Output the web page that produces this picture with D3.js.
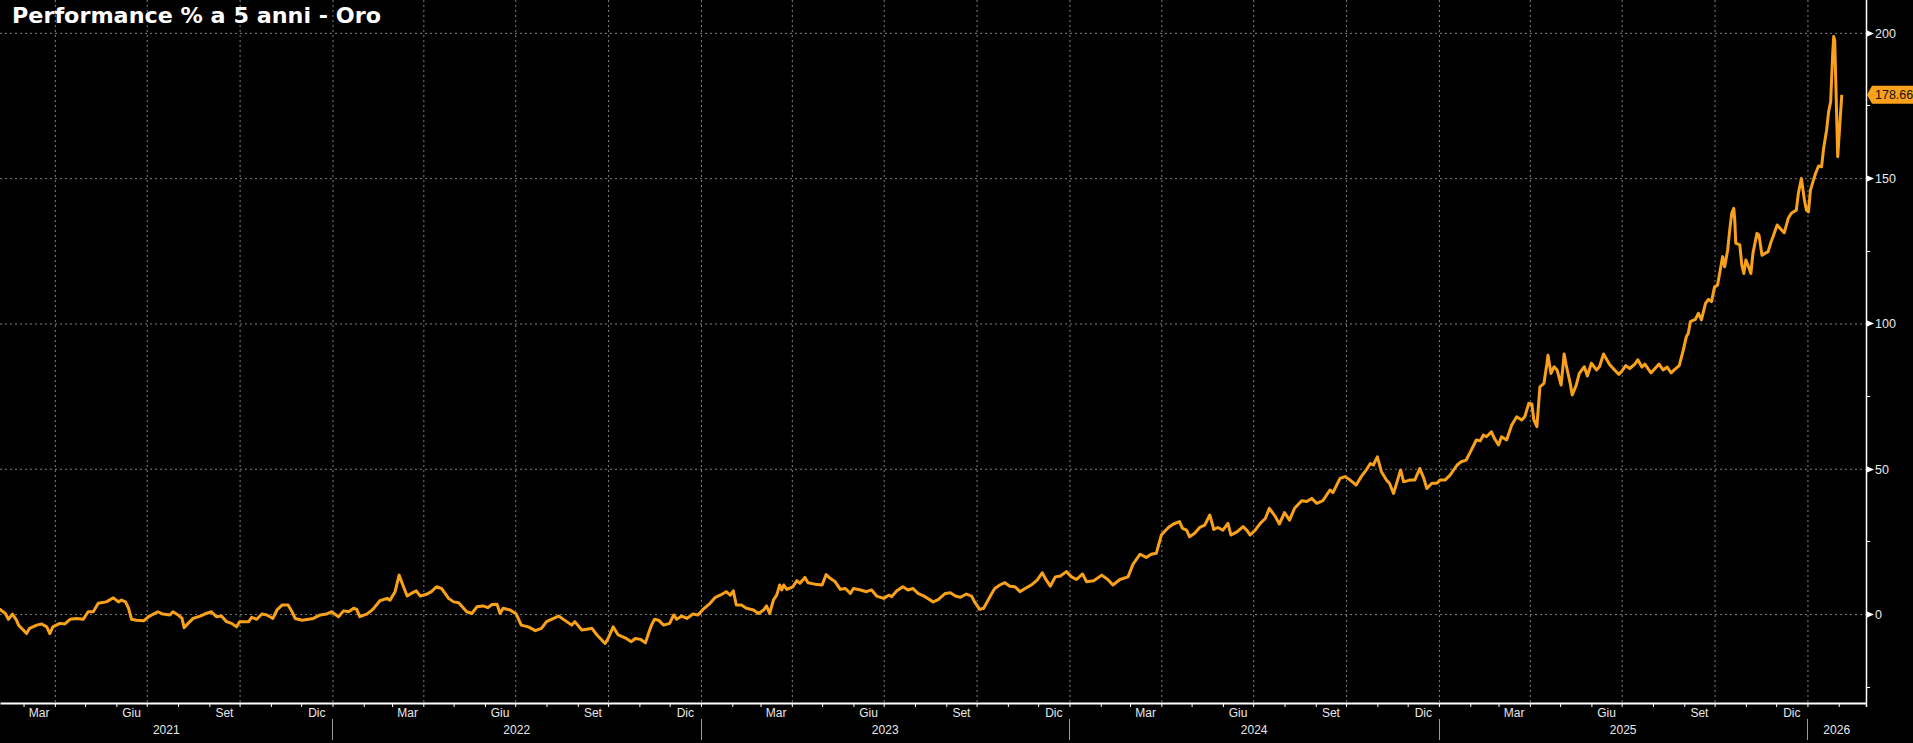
<!DOCTYPE html>
<html lang="it">
<head>
<meta charset="UTF-8">
<title>Performance % a 5 anni - Oro</title>
<script src="https://d3js.org/d3.v7.min.js"></script>
<style>
  body { margin: 0; background: #000; overflow: hidden; }
  svg { display: block; }
</style>
</head>
<body>
<script>
// performance % dell'oro su 5 anni (data, valore)
const oro2021 = [
  ["2021-02-05",1.8],["2021-02-11",0.2],["2021-02-14",-1.8],["2021-02-18",0],["2021-02-22",-2.1],["2021-02-24",-3.8],
  ["2021-02-27",-4.9],["2021-03-04",-6.7],["2021-03-07",-4.9],["2021-03-14",-3.8],["2021-03-19",-3.4],["2021-03-24",-4.4],
  ["2021-03-27",-6.7],["2021-03-30",-4.4],["2021-04-06",-3.2],["2021-04-11",-3.4],["2021-04-16",-1.8],["2021-04-23",-1.5],
  ["2021-04-29",-1.8],["2021-05-04",0.8],["2021-05-09",0.8],["2021-05-14",3.7],["2021-05-22",4.2],["2021-05-29",5.6],
  ["2021-06-03",4.2],["2021-06-06",4.8],["2021-06-10",4.2],["2021-06-13",2.0],["2021-06-16",-1.8],["2021-06-21",-2.1],
  ["2021-06-28",-2.3],["2021-07-03",-0.9],["2021-07-12",0.8],["2021-07-17",0],["2021-07-24",-0.3],["2021-07-27",0.8],
  ["2021-08-01",-0.3],["2021-08-05",-1.5],["2021-08-07",-4.7],["2021-08-11",-3.2],["2021-08-16",-1.5],["2021-08-23",-0.7],
  ["2021-08-29",0.2],["2021-09-03",0.8],["2021-09-08",-0.9],["2021-09-13",-0.7],["2021-09-18",-2.6],["2021-09-23",-3.2],
  ["2021-09-28",-4.4],["2021-10-01",-2.6],["2021-10-10",-2.6],["2021-10-13",-1.1],["2021-10-18",-1.8],["2021-10-23",0],
  ["2021-10-28",-0.3],["2021-11-03",-1.5],["2021-11-07",1.4],["2021-11-12",3.1],["2021-11-18",3.1],["2021-11-22",0.8],
  ["2021-11-25",-1.5],["2021-12-02",-2.1],["2021-12-13",-1.5],["2021-12-20",-0.3],["2021-12-26",0],["2021-12-31",0.8]
];
const oro2022 = [
  ["2022-01-07",-0.9],["2022-01-12",1.1],["2022-01-17",0.8],["2022-01-22",2.0],["2022-01-25",1.6],["2022-01-28",-0.9],
  ["2022-02-04",0],["2022-02-10",1.6],["2022-02-17",4.6],["2022-02-24",5.4],["2022-02-27",4.8],["2022-03-04",7.7],
  ["2022-03-08",13.4],["2022-03-11",10.6],["2022-03-16",6.2],["2022-03-20",7.1],["2022-03-25",8.0],["2022-03-29",6.2],
  ["2022-04-04",6.8],["2022-04-09",7.7],["2022-04-14",9.4],["2022-04-19",8.8],["2022-04-26",5.4],["2022-05-01",4.2],
  ["2022-05-06",3.9],["2022-05-14",0.8],["2022-05-19",0.2],["2022-05-24",2.5],["2022-05-30",2.8],["2022-06-04",2.2],
  ["2022-06-08",3.3],["2022-06-13",3.4],["2022-06-16",0.2],["2022-06-19",2.0],["2022-06-26",1.4],["2022-07-02",0],
  ["2022-07-07",-3.8],["2022-07-14",-4.4],["2022-07-21",-5.7],["2022-07-27",-4.9],["2022-08-01",-2.6],["2022-08-08",-1.5],
  ["2022-08-13",-0.7],["2022-08-21",-2.6],["2022-08-26",-3.8],["2022-08-29",-2.6],["2022-09-05",-5.5],["2022-09-10",-5.2],
  ["2022-09-15",-4.9],["2022-09-20",-7.2],["2022-09-28",-10.1],["2022-10-01",-8.4],["2022-10-06",-4.4],["2022-10-11",-7.2],
  ["2022-10-19",-8.4],["2022-10-24",-9.5],["2022-10-28",-8.4],["2022-11-02",-8.7],["2022-11-07",-9.9],["2022-11-10",-6.7],
  ["2022-11-13",-3.8],["2022-11-16",-1.8],["2022-11-20",-2.1],["2022-11-25",-3.8],["2022-12-01",-3.2],["2022-12-05",-0.3],
  ["2022-12-08",-1.8],["2022-12-13",-0.7],["2022-12-18",-1.5],["2022-12-24",0],["2022-12-29",-0.3]
];
const oro2023 = [
  ["2023-01-03",1.6],["2023-01-10",3.7],["2023-01-15",5.7],["2023-01-20",6.5],["2023-01-26",7.7],["2023-01-30",6.5],
  ["2023-02-02",8.0],["2023-02-05",3.1],["2023-02-10",3.1],["2023-02-15",2.0],["2023-02-22",1.4],["2023-02-27",0.2],
  ["2023-03-04",1.4],["2023-03-07",2.8],["2023-03-10",0.2],["2023-03-14",5.0],["2023-03-17",6.5],["2023-03-20",10.0],
  ["2023-03-22",8.3],["2023-03-24",10.0],["2023-03-27",8.5],["2023-04-02",9.4],["2023-04-06",11.5],["2023-04-09",10.6],
  ["2023-04-14",12.6],["2023-04-17",10.8],["2023-04-24",10.3],["2023-05-01",10.0],["2023-05-05",13.6],["2023-05-09",12.3],
  ["2023-05-14",11.1],["2023-05-19",8.5],["2023-05-24",8.8],["2023-05-29",7.1],["2023-06-01",8.8],["2023-06-08",8.3],
  ["2023-06-14",7.7],["2023-06-19",8.3],["2023-06-24",6.2],["2023-07-01",5.4],["2023-07-06",6.5],["2023-07-09",6.0],
  ["2023-07-14",8.0],["2023-07-20",9.4],["2023-07-25",8.3],["2023-07-30",8.8],["2023-08-04",7.1],["2023-08-11",6.0],
  ["2023-08-19",4.2],["2023-08-24",5.0],["2023-08-31",7.1],["2023-09-05",7.3],["2023-09-10",6.2],["2023-09-15",5.8],
  ["2023-09-21",6.9],["2023-09-26",6.2],["2023-09-29",4.2],["2023-10-04",1.6],["2023-10-08",2.0],["2023-10-11",3.9],
  ["2023-10-16",7.1],["2023-10-19",8.8],["2023-10-24",10.0],["2023-10-29",10.8],["2023-11-03",9.6],["2023-11-08",9.4],
  ["2023-11-13",7.7],["2023-11-18",8.8],["2023-11-25",10.2],["2023-11-30",11.7],["2023-12-05",14.2],["2023-12-08",12.3],
  ["2023-12-13",9.6],["2023-12-18",12.8],["2023-12-23",13.1],["2023-12-29",14.6]
];
const oro2024 = [
  ["2024-01-03",12.8],["2024-01-08",11.9],["2024-01-14",13.8],["2024-01-18",11.1],["2024-01-25",11.5],["2024-02-02",13.4],
  ["2024-02-08",11.9],["2024-02-13",10.0],["2024-02-20",11.9],["2024-02-28",12.8],["2024-03-04",17.2],["2024-03-11",20.6],
  ["2024-03-17",19.5],["2024-03-22",20.6],["2024-03-27",20.9],["2024-04-01",27.2],["2024-04-08",29.8],["2024-04-13",31.0],
  ["2024-04-19",31.8],["2024-04-22",29.5],["2024-04-26",28.9],["2024-04-29",26.6],["2024-05-04",27.8],["2024-05-09",29.8],
  ["2024-05-14",30.6],["2024-05-19",34.1],["2024-05-23",29.1],["2024-05-27",29.8],["2024-06-01",28.9],["2024-06-06",31.2],
  ["2024-06-09",27.2],["2024-06-15",28.3],["2024-06-21",30.1],["2024-06-25",28.7],["2024-06-28",27.2],["2024-07-03",28.9],
  ["2024-07-08",31.2],["2024-07-13",32.9],["2024-07-17",36.4],["2024-07-23",33.5],["2024-07-27",31.0],["2024-08-01",34.9],
  ["2024-08-06",32.3],["2024-08-11",36.4],["2024-08-18",39.0],["2024-08-23",38.7],["2024-08-28",39.8],["2024-09-02",38.1],
  ["2024-09-08",39.0],["2024-09-15",42.7],["2024-09-18",41.8],["2024-09-25",46.7],["2024-09-30",47.3],["2024-10-05",46.1],
  ["2024-10-11",44.4],["2024-10-16",47.3],["2024-10-21",49.6],["2024-10-25",51.8],["2024-10-28",51.3],["2024-11-01",54.1],
  ["2024-11-05",49.0],["2024-11-10",46.1],["2024-11-13",45.0],["2024-11-17",41.5],["2024-11-21",46.1],["2024-11-24",49.6],
  ["2024-11-27",45.5],["2024-12-03",46.1],["2024-12-08",46.1],["2024-12-13",50.1],["2024-12-17",46.7],["2024-12-20",43.2],
  ["2024-12-25",45.0],["2024-12-30",45.0]
];
const oro2025 = [
  ["2025-01-02",46.1],["2025-01-07",46.1],["2025-01-12",47.8],["2025-01-19",51.3],["2025-01-23",52.4],["2025-01-28",53.0],
  ["2025-02-02",56.4],["2025-02-07",59.9],["2025-02-11",59.6],["2025-02-14",61.6],["2025-02-17",61.0],["2025-02-22",62.7],
  ["2025-02-25",60.4],["2025-03-01",58.2],["2025-03-04",61.0],["2025-03-09",59.9],["2025-03-14",65.0],["2025-03-19",67.9],
  ["2025-03-24",66.8],["2025-03-27",67.9],["2025-03-31",72.5],["2025-04-03",72.3],["2025-04-05",66.8],["2025-04-08",64.5],
  ["2025-04-11",78.2],["2025-04-15",79.4],["2025-04-18",86.3],["2025-04-19",89.1],["2025-04-22",82.8],["2025-04-25",85.1],
  ["2025-04-28",84.0],["2025-05-02",78.8],["2025-05-05",89.5],["2025-05-07",85.7],["2025-05-11",79.4],["2025-05-13",75.4],
  ["2025-05-17",78.8],["2025-05-20",82.8],["2025-05-25",85.1],["2025-05-28",81.9],["2025-06-01",86.3],["2025-06-06",84.0],
  ["2025-06-09",85.1],["2025-06-13",89.5],["2025-06-19",85.9],["2025-06-24",84],["2025-06-28",82.5],["2025-07-01",83.5],
  ["2025-07-05",85.5],["2025-07-09",84.5],["2025-07-14",86],["2025-07-17",87.5],["2025-07-21",85],["2025-07-24",86],
  ["2025-07-30",83],["2025-08-03",84.5],["2025-08-07",86],["2025-08-11",84],["2025-08-15",85],["2025-08-19",83],
  ["2025-08-22",84],["2025-08-27",85.5],["2025-08-31",90.8],["2025-09-03",95.4],["2025-09-05",96.6],["2025-09-07",100.6],
  ["2025-09-12",101.4],["2025-09-15",103.5],["2025-09-18",101.2],["2025-09-22",106.9],["2025-09-25",108.3],["2025-09-28",107.5],
  ["2025-10-01",112.6],["2025-10-04",113.2],["2025-10-06",117.2],["2025-10-09",123.0],["2025-10-11",119.5],["2025-10-14",125.3],
  ["2025-10-16",132.1],["2025-10-18",137.9],["2025-10-20",139.6],["2025-10-21",135.6],["2025-10-22",127.6],["2025-10-26",127.0],
  ["2025-10-28",120.1],["2025-10-30",117.2],["2025-11-01",121.8],["2025-11-03",120.1],["2025-11-06",117.2],["2025-11-08",124.1],
  ["2025-11-12",131.0],["2025-11-14",130.4],["2025-11-17",123.5],["2025-11-20",124.1],["2025-11-23",124.7],["2025-11-26",128.1],
  ["2025-11-28",129.9],["2025-12-02",133.9],["2025-12-05",132.7],["2025-12-09",131.2],["2025-12-13",136.2],["2025-12-16",137.9],
  ["2025-12-21",139.0],["2025-12-23",144.8],["2025-12-26",149.9],["2025-12-29",142.5],["2025-12-31",139.0]
];
const oro2026 = [
  ["2026-01-02",138.4],["2026-01-04",145.9],["2026-01-06",148.2],["2026-01-09",151.6],["2026-01-12",154.2],["2026-01-15",153.9],
  ["2026-01-17",160.2],["2026-01-20",166.6],["2026-01-22",172.9],["2026-01-24",176.3],["2026-01-26",192.9],["2026-01-27",198.7],
  ["2026-01-28",197.5],["2026-01-31",157.4],["2026-02-04",178.66]
];

const monthNames = ["Gen","Feb","Mar","Apr","Mag","Giu","Lug","Ago","Set","Ott","Nov","Dic"];
const labelMonths = [2, 5, 8, 11];          // Mar, Giu, Set, Dic
const yTicks = [0, 50, 100, 150, 200];
const yMinor = [-25, 25, 75, 125, 175];
const lastValue = "178.66";
const title = "Performance % a 5 anni - Oro";

const W = 1913, H = 743;
const plotRight = 1866, plotBottom = 703;
const orange = "#f9a11b";

const parse = d3.timeParse("%Y-%m-%d");
const data = [].concat(oro2021, oro2022, oro2023, oro2024, oro2025, oro2026)
  .map(d => ({ date: parse(d[0]), value: d[1] }));

const svg = d3.select("body").append("svg")
  .attr("width", W).attr("height", H)
  .style("background", "#000");

const x = d3.scaleTime()
  .domain([new Date(2021, 1, 5, 16), new Date(2026, 1, 28)])
  .range([0, plotRight]);
const y = d3.scaleLinear()
  .domain([-30.6, 211.3])
  .range([plotBottom, 0]);

// griglia tratteggiata
const gridX = svg.append("g")
  .call(d3.axisBottom(x).ticks(d3.timeMonth.every(3)).tickSize(plotBottom).tickFormat(""));
const gridY = svg.append("g")
  .call(d3.axisRight(y).tickValues(yTicks).tickSize(plotRight).tickFormat(""));
[gridX, gridY].forEach(g => {
  g.select(".domain").remove();
  g.selectAll("line").attr("stroke", "#808080").attr("stroke-dasharray", "2,3");
});

// titolo
svg.append("text")
  .attr("x", 12).attr("y", 23)
  .attr("fill", "#fff")
  .attr("font-family", "'DejaVu Sans', Verdana, sans-serif")
  .attr("font-weight", "bold")
  .attr("font-size", 22)
  .attr("textLength", 369)
  .attr("lengthAdjust", "spacingAndGlyphs")
  .text(title);

// linea
svg.append("clipPath").attr("id", "clip")
  .append("rect").attr("x", 0).attr("y", 0).attr("width", plotRight).attr("height", plotBottom);

const line = d3.line().x(d => x(d.date)).y(d => y(d.value));
svg.append("path")
  .datum(data)
  .attr("clip-path", "url(#clip)")
  .attr("fill", "none")
  .attr("stroke", orange)
  .attr("stroke-width", 3)
  .attr("stroke-linejoin", "round")
  .attr("d", line);

// asse x
const xAxis = svg.append("g")
  .attr("transform", `translate(0,${plotBottom})`)
  .call(d3.axisBottom(x).ticks(d3.timeMonth.every(1)).tickSize(4).tickSizeOuter(0).tickFormat(""));
xAxis.select(".domain").attr("stroke", "#fff").attr("stroke-width", 2);
xAxis.selectAll(".tick line").attr("stroke", "#fff");

const [d0, d1] = x.domain();
const axisFont = "'Liberation Sans', Arial, sans-serif";

const months = d3.timeMonth.range(d3.timeMonth.floor(d0), d1)
  .filter(m => labelMonths.includes(m.getMonth()));
svg.append("g").selectAll("text")
  .data(months)
  .join("text")
  .attr("x", m => (x(m) + x(d3.timeMonth.offset(m, 1))) / 2)
  .attr("y", 717)
  .attr("text-anchor", "middle")
  .attr("fill", "#e8e8e8")
  .attr("font-family", axisFont)
  .attr("font-size", 12)
  .text(m => monthNames[m.getMonth()]);

const years = d3.range(d0.getFullYear(), d1.getFullYear() + 1);
svg.append("g").selectAll("text")
  .data(years)
  .join("text")
  .attr("x", yr => {
    const a = Math.max(x(new Date(yr, 0, 1)), 0);
    const b = Math.min(x(new Date(yr + 1, 0, 1)), plotRight);
    return (a + b) / 2;
  })
  .attr("y", 734)
  .attr("text-anchor", "middle")
  .attr("fill", "#e8e8e8")
  .attr("font-family", axisFont)
  .attr("font-size", 12)
  .text(yr => yr);

svg.append("g").selectAll("line")
  .data(years.slice(1))
  .join("line")
  .attr("x1", yr => Math.round(x(new Date(yr, 0, 1))) + 0.5)
  .attr("x2", yr => Math.round(x(new Date(yr, 0, 1))) + 0.5)
  .attr("y1", 719).attr("y2", 740)
  .attr("stroke", "#9a9a9a");

// asse y a destra
svg.append("line")
  .attr("x1", plotRight + 0.5).attr("x2", plotRight + 0.5)
  .attr("y1", 0).attr("y2", plotBottom + 4)
  .attr("stroke", "#fff").attr("stroke-width", 1.5);

svg.append("g").selectAll("line")
  .data(yMinor)
  .join("line")
  .attr("x1", plotRight).attr("x2", plotRight + 4)
  .attr("y1", d => Math.round(y(d)) + 0.5).attr("y2", d => Math.round(y(d)) + 0.5)
  .attr("stroke", "#fff");

const major = svg.append("g").selectAll("g")
  .data(yTicks)
  .join("g")
  .attr("transform", d => `translate(${plotRight},${Math.round(y(d)) + 0.5})`);
major.append("path")
  .attr("d", "M0,-3.5L8,0L0,3.5Z")
  .attr("fill", "#fff");
major.append("text")
  .attr("x", 9).attr("dy", "0.35em")
  .attr("fill", "#e8e8e8")
  .attr("font-family", axisFont)
  .attr("font-size", 12.5)
  .text(d => d);

// etichetta ultimo valore
const last = data[data.length - 1];
const ly = y(last.value);
svg.append("path")
  .attr("d", `M${plotRight + 1},${ly}L${plotRight + 6},${ly - 9}L${W},${ly - 9}L${W},${ly + 9}L${plotRight + 6},${ly + 9}Z`)
  .attr("fill", orange);
svg.append("text")
  .attr("x", plotRight + 9).attr("y", ly).attr("dy", "0.35em")
  .attr("fill", "#111")
  .attr("font-family", axisFont)
  .attr("font-size", 12.5)
  .text(lastValue);
</script>
</body>
</html>
